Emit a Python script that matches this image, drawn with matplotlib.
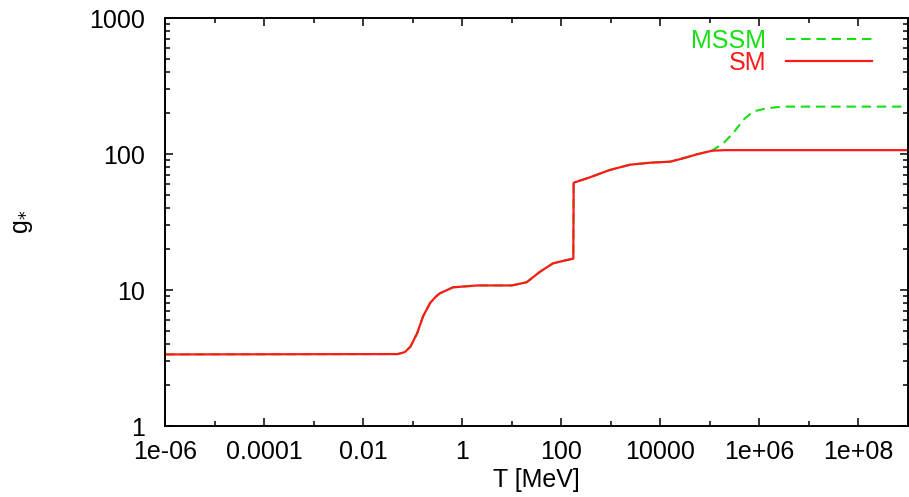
import matplotlib
matplotlib.use("Agg")
import matplotlib.pyplot as plt
from matplotlib.ticker import LogLocator, FixedLocator, NullFormatter

plt.rcParams['font.family'] = ['Liberation Sans', 'DejaVu Sans']

# Standard Model g* vs T [MeV]
sm_T = [1e-6, 0.05, 0.07, 0.09, 0.123, 0.162, 0.224, 0.29, 0.355, 0.65, 2.0, 10, 20, 37, 68, 128,
        175, 178, 380, 955, 2450, 6200, 15800, 29000, 55000, 1.1e5, 2e5, 1e9]
sm_g = [3.36, 3.38, 3.5, 3.83, 4.8, 6.4, 8.0, 8.9, 9.46, 10.46, 10.8, 10.8, 11.4, 13.6, 15.7, 16.6,
        17.0, 61.5, 67.4, 76.3, 83.4, 86.3, 87.8, 93, 99.5, 105.7, 106.75, 106.75]

# MSSM g* (coincides with SM below ~1e5 MeV)
mssm_T = [1e-6, 0.05, 0.07, 0.09, 0.123, 0.162, 0.224, 0.29, 0.355, 0.65, 2.0, 10, 20, 37, 68, 128,
          175, 178, 380, 955, 2450, 6200, 15800, 29000, 55000, 1.1e5, 1.87e5, 2.95e5, 4.7e5,
          7.4e5, 1.4e6, 3e6, 1e9]
mssm_g = [3.36, 3.38, 3.5, 3.83, 4.8, 6.4, 8.0, 8.9, 9.46, 10.46, 10.8, 10.8, 11.4, 13.6, 15.7, 16.6,
          17.0, 61.5, 67.4, 76.3, 83.4, 86.3, 87.8, 93, 99.5, 105.7, 120, 142, 178,
          205, 217, 223, 223]

xticks = [1e-6, 1e-4, 1e-2, 1, 1e2, 1e4, 1e6, 1e8]
xticklabels = ["1e-06", "0.0001", "0.01", "1", "100", "10000", "1e+06", "1e+08"]
xminor = [1e-5, 1e-3, 1e-1, 1e1, 1e3, 1e5, 1e7]
yticks = [1, 10, 100, 1000]
yticklabels = ["1", "10", "100", "1000"]

fig = plt.figure(figsize=(9.09, 4.97), dpi=100)
ax = fig.add_axes([165/909, 1-426/497, 743/909, 408/497])

green = '#14e014'
red = '#ff1a1a'
ax.plot(mssm_T, mssm_g, color=green, lw=1.5, dashes=(4.5, 2.8), label='MSSM')
ax.plot(sm_T, sm_g, color=red, lw=1.6, label='SM')

ax.set_xscale('log')
ax.set_yscale('log')
ax.set_xlim(1e-6, 1e9)
ax.set_ylim(1, 1000)

ax.xaxis.set_major_locator(FixedLocator(xticks))
ax.set_xticklabels(xticklabels)
ax.xaxis.set_minor_locator(FixedLocator(xminor))
ax.xaxis.set_minor_formatter(NullFormatter())
ax.yaxis.set_major_locator(FixedLocator(yticks))
ax.set_yticklabels(yticklabels)
ax.yaxis.set_minor_locator(LogLocator(base=10, subs=range(2, 10)))
ax.yaxis.set_minor_formatter(NullFormatter())

ax.tick_params(which='both', direction='in', top=True, right=True, labelsize=18, colors='black')
ax.tick_params(which='major', length=6, width=1.1)
ax.tick_params(which='minor', length=3.5, width=1.1)
ax.tick_params(axis='x', which='major', pad=10)
ax.tick_params(axis='y', which='major', pad=14.5)
for s in ax.spines.values():
    s.set_linewidth(1.4)

ax.set_xlabel('T [MeV]', fontsize=18, labelpad=3)
ax.set_ylabel(r'g$_{*}$', fontsize=18)
ax.yaxis.set_label_coords(-0.175, 0.5)

ax.legend(loc='upper right', bbox_to_anchor=(0.9515, 0.974), frameon=False, markerfirst=False,
          fontsize=18, handlelength=3.44, handletextpad=0.8, labelspacing=-0.06,
          labelcolor='linecolor', borderaxespad=0, borderpad=0)

fig.savefig('out.png', dpi=100)
